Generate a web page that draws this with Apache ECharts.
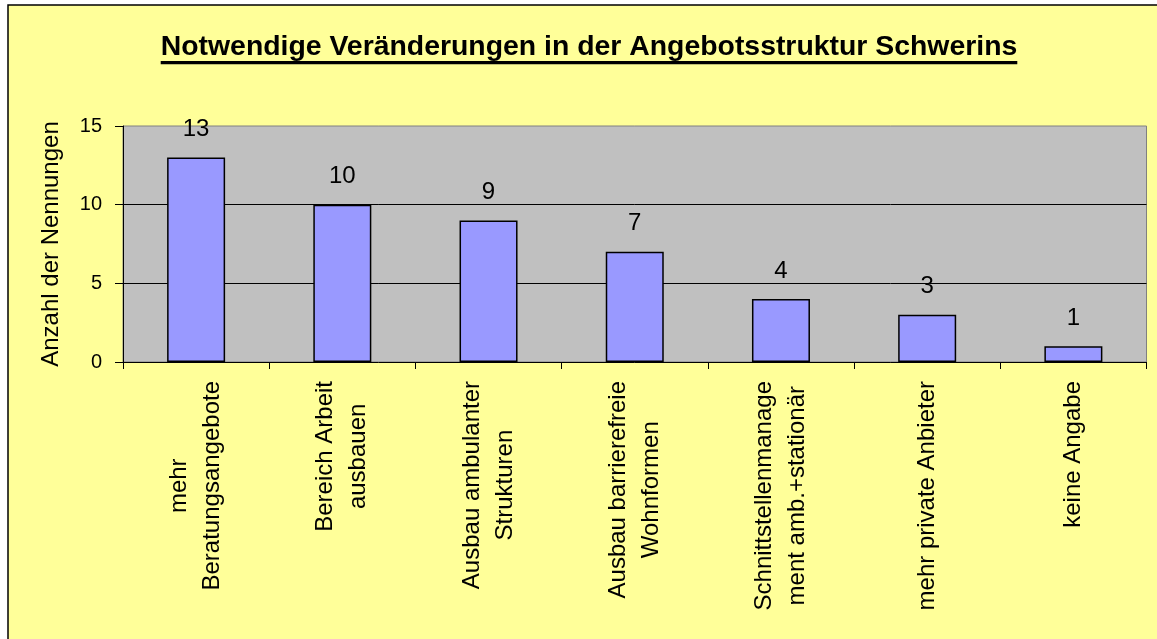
<!DOCTYPE html>
<html>
<head>
<meta charset="utf-8">
<script src="https://cdn.jsdelivr.net/npm/echarts@6/dist/echarts.min.js"></script>
<style>
html,body{margin:0;padding:0;background:#fff;}
#c{width:1157px;height:639px;}
</style>
</head>
<body>
<div id="c"></div>
<script>
const titleText = 'Notwendige Veränderungen in der Angebotsstruktur Schwerins';
const yAxisName = 'Anzahl der Nennungen';
const categories = [
  'mehr\nBeratungsangebote',
  'Bereich Arbeit\nausbauen',
  'Ausbau ambulanter\nStrukturen',
  'Ausbau barrierefreie\nWohnformen',
  'Schnittstellenmanage\nment amb.+stationär',
  'mehr private Anbieter',
  'keine Angabe'
];
const values = [13, 10, 9, 7, 4, 3, 1];
const yMin = 0, yMax = 15, yInterval = 5;

const FONT = "'Liberation Sans', Arial, sans-serif";
const titleSize = 28.4;
const mc = document.createElement('canvas').getContext('2d');
mc.font = 'bold ' + titleSize + 'px ' + FONT;
const titleW = mc.measureText(titleText).width;
const titleCx = 589;

const chart = echarts.init(document.getElementById('c'));
chart.setOption({
  animation: false,
  backgroundColor: '#ffffff',
  graphic: [
    { type: 'rect', z: -10, shape: { x: 8, y: 5, width: 1200, height: 700 },
      style: { fill: '#FFFF99', stroke: '#000', lineWidth: 1.5 } },
    { type: 'text', x: titleCx, y: 47, z: 10,
      style: { text: titleText, font: 'bold ' + titleSize + 'px ' + FONT, fill: '#000',
               align: 'center', verticalAlign: 'middle' } },
    { type: 'rect', z: 10, shape: { x: titleCx - titleW / 2, y: 61, width: titleW, height: 3.3 },
      style: { fill: '#000' } }
  ],
  grid: {
    left: 123, top: 126, right: 10.5, bottom: 277,
    show: true, backgroundColor: '#C0C0C0', borderColor: '#808080', borderWidth: 1
  },
  xAxis: {
    type: 'category',
    data: categories,
    axisLine: { show: true, lineStyle: { color: '#000', width: 1 } },
    axisTick: { show: true, length: 7, lineStyle: { color: '#000' } },
    axisLabel: {
      rotate: 90, margin: 19, interval: 0, color: '#000',
      fontFamily: FONT, fontSize: 24, lineHeight: 33,
      formatter: v => v.split('\n').map(s => '{c|' + s + '}').join('\n'),
      rich: { c: { align: 'center', fontFamily: FONT, fontSize: 24, lineHeight: 33, color: '#000' } }
    },
    splitLine: { show: false }
  },
  yAxis: {
    type: 'value', min: yMin, max: yMax, interval: yInterval,
    name: yAxisName, nameLocation: 'middle', nameGap: 60, nameRotate: 90,
    nameTextStyle: { fontFamily: FONT, fontSize: 24, color: '#000' },
    axisLine: { show: true, lineStyle: { color: '#000', width: 1 } },
    axisTick: { show: true, length: 8, lineStyle: { color: '#000' } },
    axisLabel: { margin: 21, fontFamily: FONT, fontSize: 20, color: '#000' },
    splitLine: { show: true, showMinLine: false, showMaxLine: false, lineStyle: { color: '#000', width: 1 } }
  },
  series: [{
    type: 'bar',
    data: values,
    barWidth: 58,
    itemStyle: { color: '#9999FF', borderColor: '#000', borderWidth: 1.5 },
    label: { show: true, position: 'top', distance: 16, fontFamily: FONT, fontSize: 24, color: '#000' }
  }]
});
</script>
</body>
</html>
